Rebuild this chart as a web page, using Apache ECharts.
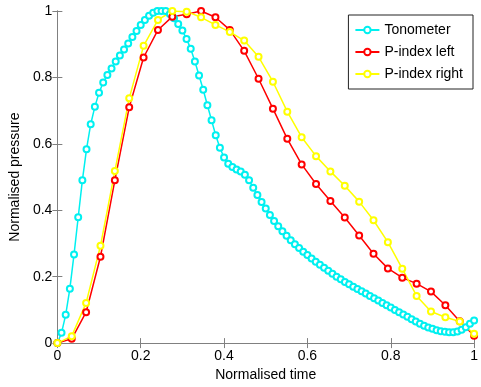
<!DOCTYPE html>
<html>
<head>
<meta charset="utf-8">
<script src="https://cdn.jsdelivr.net/npm/echarts@6/dist/echarts.min.js"></script>
<style>
  html, body { margin: 0; padding: 0; background: #fff; }
  #main { width: 481px; height: 387px; }
</style>
</head>
<body>
<div id="main"></div>
<script>
// 曲线数据
var tonometer = [
    0, 0.031, 0.085, 0.164, 0.267, 0.379, 0.49, 0.584, 0.659, 0.712,
    0.754, 0.785, 0.807, 0.827, 0.848, 0.866, 0.884, 0.902, 0.922, 0.94,
    0.958, 0.973, 0.986, 0.995, 1.0, 1.0, 1.0, 0.991, 0.978, 0.961,
    0.941, 0.916, 0.886, 0.848, 0.806, 0.763, 0.716, 0.671, 0.626, 0.588,
    0.559, 0.54, 0.53, 0.523, 0.517, 0.507, 0.49, 0.468, 0.446, 0.425,
    0.405, 0.386, 0.368, 0.352, 0.337, 0.323, 0.31, 0.298, 0.286, 0.275,
    0.265, 0.255, 0.245, 0.236, 0.227, 0.218, 0.209, 0.2, 0.192, 0.184,
    0.177, 0.17, 0.163, 0.156, 0.149, 0.142, 0.135, 0.128, 0.121, 0.114,
    0.107, 0.1, 0.093, 0.086, 0.079, 0.072, 0.065, 0.058, 0.052, 0.047,
    0.043, 0.039, 0.036, 0.034, 0.033, 0.033, 0.035, 0.04, 0.048, 0.058,
    0.068
];
var pLeft = [
    0, 0.013, 0.093, 0.26, 0.49, 0.71, 0.86, 0.943, 0.983, 0.99,
    1.0, 0.981, 0.943, 0.88, 0.796, 0.706, 0.615, 0.538, 0.479, 0.428,
    0.378, 0.324, 0.269, 0.225, 0.197, 0.179, 0.155, 0.114, 0.066, 0.022
];
var pRight = [
    0, 0.021, 0.121, 0.293, 0.518, 0.737, 0.895, 0.973, 1.0, 0.998,
    0.981, 0.958, 0.937, 0.911, 0.862, 0.787, 0.697, 0.62, 0.563, 0.517,
    0.474, 0.426, 0.37, 0.304, 0.224, 0.142, 0.095, 0.078, 0.065, 0.028
];
var seriesNames = ['Tonometer', 'P-index left', 'P-index right'];
var seriesColors = ['#00f0f0', '#ff0000', '#ffff00'];

// 横坐标均匀分布在 0..1
function toPairs(arr) {
    var n = arr.length - 1;
    return arr.map(function (v, i) { return [i / n, v]; });
}

var myChart = echarts.init(document.getElementById('main'));
var font = 'Liberation Sans, Arial, sans-serif';
var axisColor = '#808080';
var fmt = function (v) { return String(+v.toFixed(1)); };

function makeSeries(name, data, color) {
    return {
        name: name,
        type: 'line',
        data: toPairs(data),
        symbol: 'emptyCircle',
        symbolSize: 6,
        showAllSymbol: true,
        lineStyle: { color: color, width: 1.5 },
        itemStyle: { color: color, borderColor: color, borderWidth: 1.5 },
        emphasis: { disabled: true },
        animation: false
    };
}

var option = {
    backgroundColor: '#fff',
    animation: false,
    grid: { left: 51, right: 4, top: 11, bottom: 41, containLabel: false },
    legend: {
        orient: 'vertical',
        right: 8,
        top: 15,
        padding: [8, 10, 8, 6],
        itemGap: 8,
        itemWidth: 24,
        itemHeight: 8,
        borderColor: '#222',
        borderWidth: 1,
        backgroundColor: '#fff',
        textStyle: { fontFamily: font, fontSize: 14, color: '#000', lineHeight: 14 },
        data: seriesNames
    },
    xAxis: [{
        type: 'value', min: 0, max: 1, interval: 0.2,
        name: 'Normalised time', nameLocation: 'middle', nameGap: 22,
        nameTextStyle: { fontFamily: font, fontSize: 14, color: '#000' },
        axisLine: { lineStyle: { color: axisColor } },
        axisTick: { inside: true, length: 5, lineStyle: { color: axisColor } },
        axisLabel: { fontFamily: font, fontSize: 14, color: '#000', margin: 6, formatter: fmt },
        splitLine: { show: false }
    }, {
        type: 'value', min: 0, max: 1, interval: 0.2, position: 'top',
        axisLine: { show: true, lineStyle: { color: axisColor } },
        axisTick: { inside: true, length: 5, lineStyle: { color: axisColor } },
        axisLabel: { show: false },
        splitLine: { show: false }
    }],
    yAxis: [{
        type: 'value', min: 0, max: 1, interval: 0.2,
        name: 'Normalised pressure', nameLocation: 'middle', nameGap: 33,
        nameTextStyle: { fontFamily: font, fontSize: 14, color: '#000' },
        axisLine: { show: true, lineStyle: { color: axisColor } },
        axisTick: { show: true, inside: true, length: 5, lineStyle: { color: axisColor } },
        axisLabel: { fontFamily: font, fontSize: 14, color: '#000', margin: 5, formatter: fmt },
        splitLine: { show: false }
    }, {
        type: 'value', min: 0, max: 1, interval: 0.2, position: 'right',
        axisLine: { show: true, lineStyle: { color: axisColor } },
        axisTick: { show: true, inside: true, length: 5, lineStyle: { color: axisColor } },
        axisLabel: { show: false },
        splitLine: { show: false }
    }],
    series: [
        makeSeries(seriesNames[0], tonometer, seriesColors[0]),
        makeSeries(seriesNames[1], pLeft, seriesColors[1]),
        makeSeries(seriesNames[2], pRight, seriesColors[2])
    ]
};

myChart.setOption(option);
</script>
</body>
</html>
